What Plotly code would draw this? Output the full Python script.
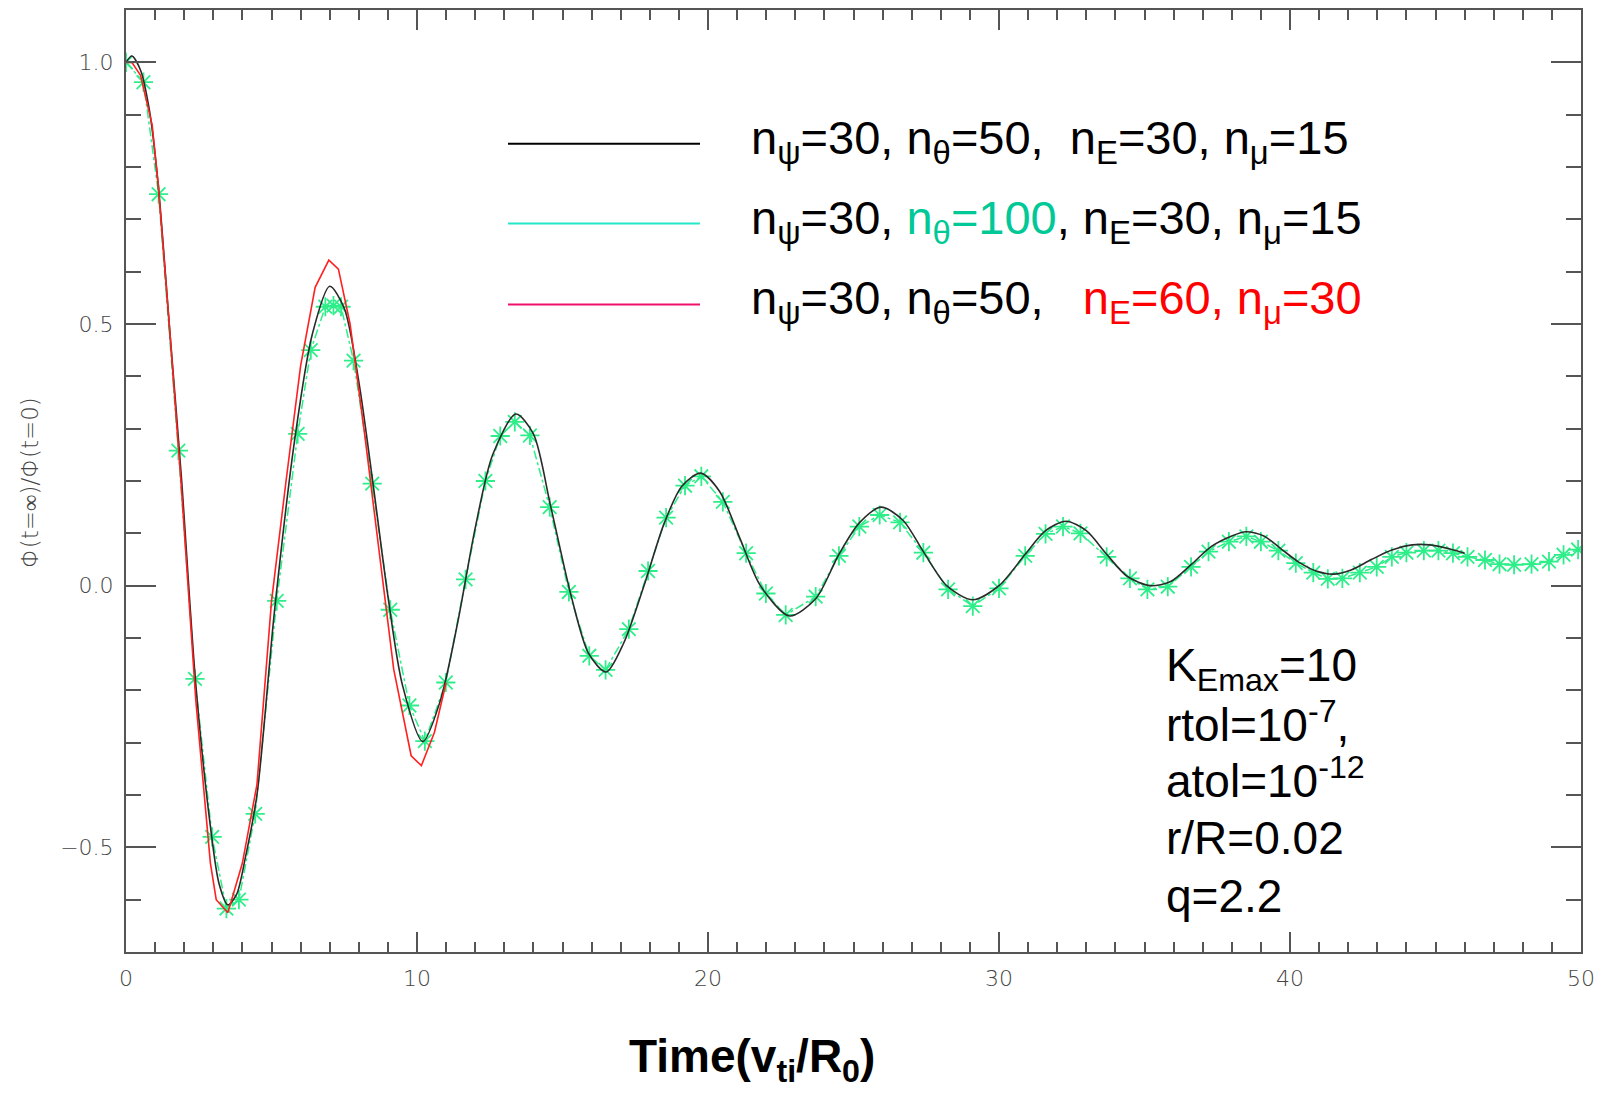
import plotly.graph_objects as go

# ---------------- data ----------------
t_black = [0.0, 0.2, 0.5, 0.8, 1.1, 1.5, 1.9, 2.4, 2.9, 3.2, 3.5, 3.8, 4.1, 4.5, 5.1, 5.8,
           6.4, 7.0, 7.5, 8.0, 8.5, 9.0, 9.5, 10.2, 10.8, 11.4, 12.0, 12.6, 13.4, 14.0,
           14.6, 15.3, 15.9, 16.5, 17.1, 17.8, 18.5, 19.1, 19.75, 20.4, 21.1, 21.8, 22.8,
           23.7, 24.5, 25.2, 25.95, 26.7, 27.4, 28.2, 29.1, 30.0, 30.9, 31.6, 32.3, 33.0,
           33.7, 34.4, 35.2, 35.9, 36.6, 37.3, 38.0, 38.5, 39.1, 39.7, 40.3, 40.9, 41.5,
           42.1, 42.8, 43.5, 44.2, 44.8, 45.5, 46.0]
v_black = [1.0, 1.012, 0.985, 0.91, 0.77, 0.49, 0.21, -0.19, -0.46, -0.57, -0.61, -0.59,
           -0.52, -0.40, -0.05, 0.28, 0.48, 0.572, 0.53, 0.39, 0.19, -0.02, -0.19, -0.298,
           -0.22, -0.07, 0.11, 0.25, 0.328, 0.29, 0.15, -0.02, -0.13, -0.165, -0.11, 0.0,
           0.12, 0.19, 0.215, 0.18, 0.09, 0.0, -0.058, -0.025, 0.06, 0.12, 0.15, 0.125,
           0.065, 0.0, -0.027, 0.0, 0.06, 0.105, 0.123, 0.105, 0.06, 0.018, 0.0, 0.008,
           0.04, 0.075, 0.095, 0.103, 0.095, 0.07, 0.045, 0.028, 0.022, 0.03, 0.05, 0.068,
           0.078, 0.078, 0.07, 0.062]

t_green = [0.0, 0.6, 1.12, 1.8, 2.37, 2.96, 3.45, 3.88, 4.44, 5.18, 5.9, 6.35, 6.85, 7.13,
           7.39, 7.82, 8.46, 9.08, 9.74, 10.27, 10.99, 11.67, 12.35, 12.86, 13.36, 13.88,
           14.56, 15.22, 15.92, 16.48, 17.28, 17.94, 18.56, 19.21, 19.77, 20.51, 21.31,
           21.99, 22.67, 23.7, 24.5, 25.2, 25.9, 26.6, 27.4, 28.25, 29.1, 30.0, 30.9, 31.6,
           32.2, 32.8, 33.7, 34.5, 35.1, 35.8, 36.6, 37.2, 37.9, 38.5, 39.0, 39.6, 40.2,
           40.8, 41.3, 41.8, 42.4, 42.98, 43.5, 44.0, 44.6, 45.1, 45.6, 46.1, 46.7, 47.2,
           47.7, 48.3, 48.9, 49.4, 49.9]
v_green = [1.0, 0.962, 0.748, 0.258, -0.178, -0.48, -0.617, -0.6, -0.436, -0.029, 0.29,
           0.45, 0.533, 0.535, 0.533, 0.43, 0.195, -0.046, -0.229, -0.297, -0.185, 0.012,
           0.2, 0.286, 0.313, 0.287, 0.15, -0.012, -0.134, -0.161, -0.083, 0.028, 0.13,
           0.191, 0.209, 0.16, 0.062, -0.015, -0.056, -0.021, 0.057, 0.113, 0.135, 0.121,
           0.063, -0.007, -0.039, -0.005, 0.057, 0.099, 0.113, 0.1, 0.055, 0.014, -0.007,
           -0.002, 0.036, 0.065, 0.084, 0.094, 0.084, 0.067, 0.043, 0.025, 0.013, 0.014,
           0.025, 0.036, 0.055, 0.063, 0.067, 0.067, 0.062, 0.055, 0.049, 0.041, 0.04,
           0.041, 0.046, 0.059, 0.069]

t_red = [0.0, 0.2, 0.5, 0.9, 1.1, 1.5, 1.9, 2.4, 2.9, 3.1, 3.5, 4.0, 4.5, 5.0, 5.5, 6.0,
         6.5, 6.97, 7.3, 7.7, 8.2, 8.7, 9.2, 9.8, 10.15, 10.6, 11.0]
v_red = [1.0, 1.0, 0.975, 0.88, 0.77, 0.49, 0.19, -0.22, -0.53, -0.6, -0.625, -0.53, -0.38,
         -0.03, 0.2, 0.42, 0.57, 0.622, 0.605, 0.5, 0.29, 0.06, -0.16, -0.325, -0.344,
         -0.28, -0.185]

x_ticks = [0, 10, 20, 30, 40, 50]
y_ticks = [-0.5, 0.0, 0.5, 1.0]

legend_rows = [
    "n<sub>ψ</sub>=30, n<sub>θ</sub>=50,\u00a0\u00a0n<sub>E</sub>=30, n<sub>μ</sub>=15",
    "n<sub>ψ</sub>=30, <span style='color:#00C896'>n<sub>θ</sub>=100</span>, n<sub>E</sub>=30, n<sub>μ</sub>=15",
    "n<sub>ψ</sub>=30, n<sub>θ</sub>=50,\u00a0\u00a0\u00a0<span style='color:#FF0000'>n<sub>E</sub>=60, n<sub>μ</sub>=30</span>",
]
legend_colors = ["#000000", "#22E8C8", "#F0106A"]

info_lines = ["K<sub>Emax</sub>=10", "rtol=10<sup>-7</sup>,", "atol=10<sup>-12</sup>",
              "r/R=0.02", "q=2.2"]

# ---------------- layout geometry (pixels) ----------------
W, H = 1610, 1093
L, R, T, B = 126, 29, 8, 141
PW, PH = W - L - R, H - T - B


def px(x):
    return (x - L) / PW


def py(y):
    return (H - B - y) / PH


BLACK = "#2a2a2a"
GREEN = "#2EEE8A"
RED = "#FF2020"
TICKFONT = dict(family="DejaVu Sans", size=22, color="#444444", weight=300)

fig = go.Figure()
fig.add_trace(go.Scatter(x=t_green, y=v_green, mode="lines+markers",
                         line=dict(color=GREEN, width=1.5, dash="dashdot"),
                         marker=dict(symbol="asterisk-open", size=16, color=GREEN,
                                     line=dict(width=1.8, color=GREEN)),
                         showlegend=False))
fig.add_trace(go.Scatter(x=t_black, y=v_black, mode="lines",
                         line=dict(color=BLACK, width=1.6, shape="spline", smoothing=0.8),
                         showlegend=False))
fig.add_trace(go.Scatter(x=t_red, y=v_red, mode="lines",
                         line=dict(color=RED, width=1.6),
                         showlegend=False))

shapes = []
annotations = []
row_y = [142, 222, 303]
for i, (txt, col) in enumerate(zip(legend_rows, legend_colors)):
    shapes.append(dict(type="line", xref="paper", yref="paper",
                       x0=px(508), x1=px(700), y0=py(row_y[i]), y1=py(row_y[i]),
                       line=dict(color=col, width=2)))
    annotations.append(dict(text=txt, xref="paper", yref="paper", x=px(749),
                            y=py(row_y[i] - 3), xanchor="left", yanchor="middle",
                            showarrow=False,
                            font=dict(family="Liberation Sans, Arial", size=47,
                                      color="#000000")))

info_y = [668, 722, 778, 838, 896]
for txt, yy in zip(info_lines, info_y):
    annotations.append(dict(text=txt, xref="paper", yref="paper", x=px(1164), y=py(yy),
                            xanchor="left", yanchor="middle", showarrow=False,
                            font=dict(family="Liberation Sans, Arial", size=46,
                                      color="#000000")))

annotations.append(dict(text="Time(v<sub>ti</sub>/R<sub>0</sub>)", xref="paper",
                        yref="paper", x=px(752), y=py(1060), xanchor="center",
                        yanchor="middle", showarrow=False,
                        font=dict(family="Liberation Sans, Arial", size=46,
                                  color="#000000", weight="bold")))
annotations.append(dict(text="Φ(t=∞)/Φ(t=0)", xref="paper", yref="paper", x=px(30),
                        y=py(482), xanchor="center", yanchor="middle", textangle=-90,
                        showarrow=False, font=dict(TICKFONT, size=23)))

axis_common = dict(showgrid=False, zeroline=False, showline=True, linecolor="#555555",
                   linewidth=2, mirror="ticks", ticks="inside", tickcolor="#555555",
                   tickwidth=1.5, tickfont=TICKFONT)

fig.update_xaxes(range=[0, 50], tickvals=x_ticks, ticklen=20, ticklabelstandoff=6,
                 minor=dict(ticks="inside", dtick=1, tick0=0, ticklen=10,
                            tickcolor="#555555", tickwidth=1.5, showgrid=False),
                 **axis_common)
fig.update_yaxes(range=[-0.7, 1.1], tickvals=y_ticks, tickformat=".1f", ticklen=30,
                 ticklabelstandoff=6,
                 minor=dict(ticks="inside", dtick=0.1, tick0=0, ticklen=15,
                            tickcolor="#555555", tickwidth=1.5, showgrid=False),
                 **axis_common)

fig.update_layout(width=W, height=H, autosize=False,
                  margin=dict(l=L, r=R, t=T, b=B, pad=0),
                  paper_bgcolor="white", plot_bgcolor="white",
                  shapes=shapes, annotations=annotations, showlegend=False)

fig.write_html("out.html")
